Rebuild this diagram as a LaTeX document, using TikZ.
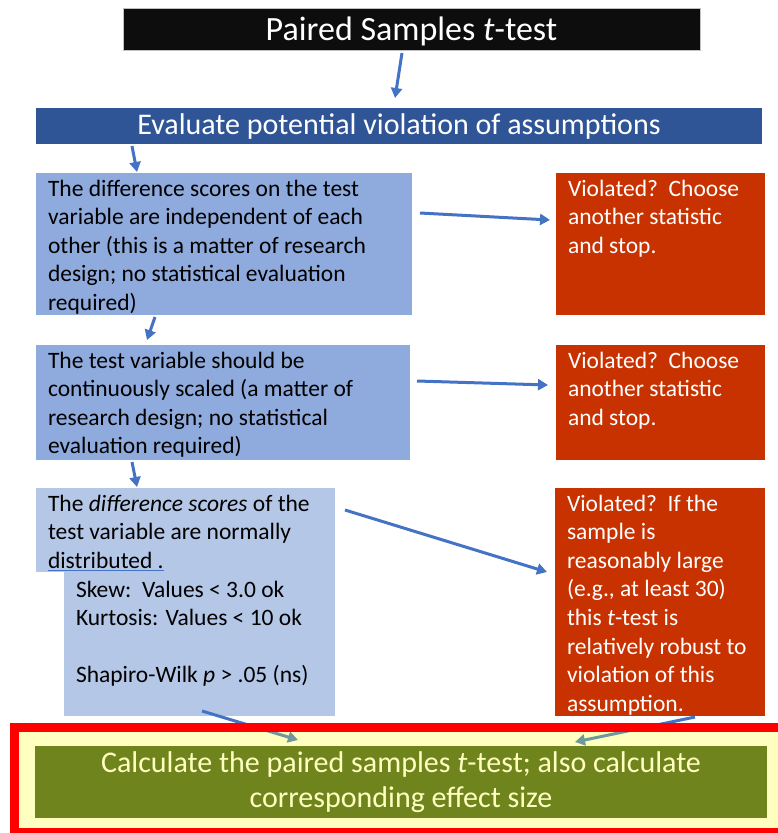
\documentclass[tikz,border=0pt]{standalone}
\usepackage{fontspec}
\setmainfont{Carlito}
\usetikzlibrary{arrows.meta}

\definecolor{titleblack}{RGB}{13,13,13}
\definecolor{barblue}{RGB}{47,85,151}
\definecolor{boxblue}{RGB}{143,170,220}
\definecolor{paleblue}{RGB}{180,199,231}
\definecolor{stopred}{RGB}{200,50,0}
\definecolor{arrowblue}{RGB}{68,114,196}
\definecolor{framered}{RGB}{255,0,0}
\definecolor{paleyellow}{RGB}{255,255,192}
\definecolor{calcgreen}{RGB}{112,132,30}
\definecolor{tipteal}{RGB}{110,152,155}

\pgfdeclarelayer{front}
\pgfdeclarelayer{top}
\pgfsetlayers{main,front,top}

\newcommand{\boxtext}[3]{\parbox[c][#2][t]{#1}{\raggedright\rule{0pt}{23pt}#3}}

\begin{document}
\begin{tikzpicture}[
      every node/.style={anchor=north west, inner sep=0pt, outer sep=0pt},
      box/.style={inner xsep=12pt, font=\fontsize{23.5}{28.6}\selectfont},
      arr/.style={draw=arrowblue, line width=3pt, -{Triangle[length=10pt,width=11pt]}},
      tip/.style={arr, draw=tipteal},
      x=1pt,
      y=-1pt]
    \useasboundingbox (0,0) rectangle (777,833);
    \clip (0,0) rectangle (777,833);

    \node [fill=titleblack, draw=gray!50, line width=0.5pt, minimum width=577pt, minimum height=42pt,
           text height=29pt, text depth=6pt,
           text=white, font=\fontsize{34}{40}\selectfont] (title) at (123, 8) {Paired Samples \textit{t}-test};
    \node [fill=barblue, minimum width=726pt, minimum height=36pt, text height=23pt, text depth=6pt,
           text=white, font=\fontsize{30}{36}\selectfont] (eval) at (36, 108) {Evaluate potential violation of assumptions};

    \node [box, fill=boxblue] (a1) at (36, 173) {\boxtext{352pt}{142pt}{The difference scores on the test\\
      variable are independent of each\\ other (this is a matter of research\\
      design; no statistical evaluation\\ required)}};
    \node [box, fill=stopred, text=white] (v1) at (556, 173) {\boxtext{185pt}{142pt}{Violated?\ \ Choose\\
      another statistic\\ and stop.}};

    \node [box, fill=boxblue] (a2) at (36, 345) {\boxtext{350pt}{115pt}{The test variable should be\\
      continuously scaled (a matter of\\ research design; no statistical\\ evaluation required)}};
    \node [box, fill=stopred, text=white] (v2) at (556, 345) {\boxtext{185pt}{115pt}{Violated?\ \ Choose\\
      another statistic\\ and stop.}};

    \node [box, fill=paleblue] (a3b) at (64, 572) {\boxtext{247pt}{144pt}{\rule{0pt}{25pt}Skew:\ \ Values < 3.0 ok\\
      Kurtosis: Values < 10 ok\\[28.6pt] Shapiro-Wilk \textit{p} > .05 (ns)}};
    \node [box, fill=paleblue] (a3) at (36, 488) {\boxtext{275pt}{84pt}{The \textit{difference scores} of the\\
      test variable are normally\\ {\color{arrowblue}\underline{\color{black}distributed .}}}};
    \node [box, fill=stopred, text=white] (v3) at (555, 488) {\boxtext{186pt}{228pt}{Violated?\ \ If the\\
      sample is\\ reasonably large\\ (e.g., at least 30)\\ this \textit{t}-test is\\
      relatively robust to\\ violation of this\\ assumption.}};

    % bottom frame, above the arrows that run into it
    \begin{pgfonlayer}{front}
      \node [draw=framered, line width=9pt, fill=paleyellow, minimum width=775.5pt,
             minimum height=105pt] (frame) at (14.5, 727.5) {};
      \node [fill=calcgreen, minimum width=732pt, minimum height=72pt, text=paleyellow,
             align=center, font=\fontsize{30}{35.5}\selectfont] (calc) at (35, 746)
            {Calculate the paired samples \textit{t}-test; also calculate\\ corresponding effect size};
    \end{pgfonlayer}

    \draw [arr] ([shift={(-9.5,3)}]title.south) -- ([shift={(-4,-10)}]eval.north);
    \draw [arr] ([shift={(96,2)}]eval.south west) -- ([shift={(101,-1)}]a1.north west);
    \draw [arr] ([shift={(8,-31)}]a1.east) -- ([shift={(-6,-24)}]v1.west);
    \draw [arr] ([shift={(119,2)}]a1.south west) -- ([shift={(111,-5)}]a2.north west);
    \draw [arr] ([shift={(7,-21.5)}]a2.east) -- ([shift={(-8,-17.5)}]v2.west);
    \draw [arr] ([shift={(96,2)}]a2.south west) -- ([shift={(101,-1)}]a3.north west);
    \draw [arr] ([shift={(10,-20)}]a3.east) -- ([shift={(-8,-30)}]v3.west);
    \draw [arr] ([shift={(138,-5)}]a3b.south west) -- ([shift={(-103,-6)}]calc.north);
    \draw [arr] ([shift={(-70,1)}]v3.south east) -- ([shift={(174,-4)}]calc.north);

    \begin{pgfonlayer}{top}
      \clip ([shift={(4.5,4.5)}]frame.north west) rectangle ([shift={(-4.5,-4.5)}]frame.south east);
      \draw [tip] ([shift={(138,-5)}]a3b.south west) -- ([shift={(-103,-6)}]calc.north);
      \draw [tip] ([shift={(-70,1)}]v3.south east) -- ([shift={(174,-4)}]calc.north);
    \end{pgfonlayer}

  \end{tikzpicture}
\end{document}
